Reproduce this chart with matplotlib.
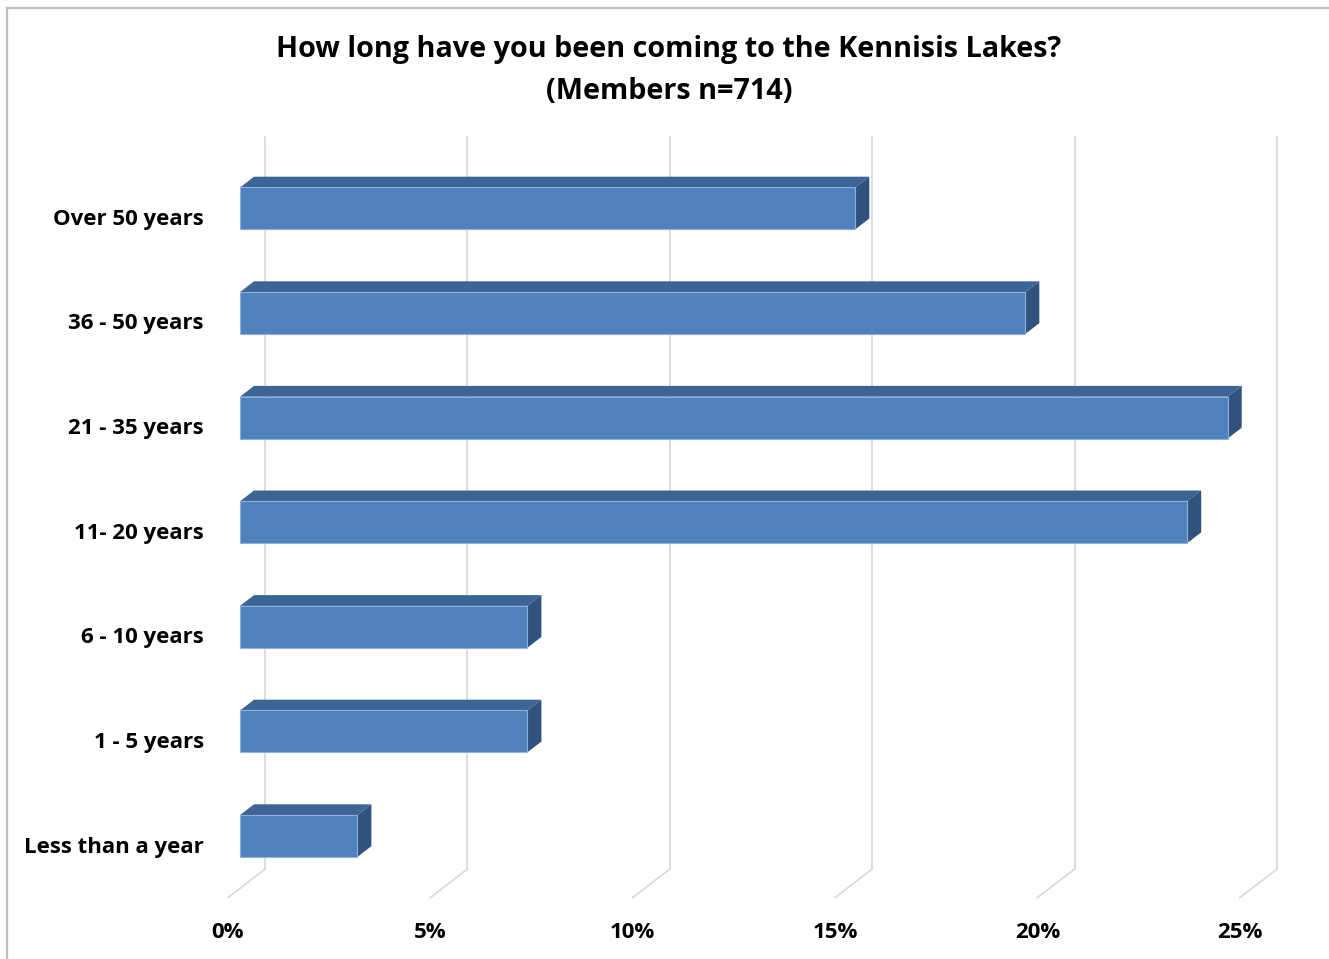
import matplotlib
matplotlib.use("Agg")
import matplotlib.pyplot as plt
from matplotlib.patches import Polygon, Rectangle
from matplotlib.lines import Line2D

# ---- data ----
categories = ["Less than a year", "1 - 5 years", "6 - 10 years", "11- 20 years",
              "21 - 35 years", "36 - 50 years", "Over 50 years"]
values = [2.9, 7.1, 7.1, 23.4, 24.4, 19.4, 15.2]
xticks = [0, 5, 10, 15, 20, 25]
xtick_labels = ["0%", "5%", "10%", "15%", "20%", "25%"]
title = "How long have you been coming to the Kennisis Lakes?\n(Members n=714)"

# ---- layout (pixel geometry of the 3D look) ----
W, H = 1329, 959
DPI = 100
X0_PX = 240.0          # front-plane 0% pixel
PX_PER_PCT = 40.48
Y0_PX = 836.0          # centre of first category (front plane)
PX_PER_CAT = 104.6
BAR_H = 0.40
DEPTH_RATIO = 0.77

def ox(t):
    return t / PX_PER_PCT

def oy(t):
    return t * DEPTH_RATIO / PX_PER_CAT

BAR_DEPTH = 14
WALL_DEPTH = 25
FLOOR_FRONT = -12

front_c = "#4F81BD"
top_c = "#3C6495"
side_c = "#30527E"
grid_c = "#D9D9D9"
font = ["Open Sans", "DejaVu Sans"]

fig = plt.figure(figsize=(W / DPI, H / DPI), dpi=DPI)
ax = fig.add_axes([0, 0, 1, 1])
ax.set_xlim(-X0_PX / PX_PER_PCT, (W - X0_PX) / PX_PER_PCT)
ax.set_ylim((Y0_PX - H) / PX_PER_CAT, Y0_PX / PX_PER_CAT)
ax.axis("off")

n = len(categories)
ylo, yhi = -0.5, n - 0.5

# back wall gridlines + floor lines
for xv in xticks:
    wx = xv + ox(WALL_DEPTH)
    ax.add_line(Line2D([wx, wx], [ylo + oy(WALL_DEPTH), yhi + oy(WALL_DEPTH)],
                       color=grid_c, lw=1.3, zorder=1))
    ax.add_line(Line2D([xv + ox(FLOOR_FRONT), wx],
                       [ylo + oy(FLOOR_FRONT), ylo + oy(WALL_DEPTH)],
                       color=grid_c, lw=1.3, zorder=1))

# bars
dx, dy = ox(BAR_DEPTH), oy(BAR_DEPTH)
for i, v in enumerate(values):
    y0, y1 = i - BAR_H / 2, i + BAR_H / 2
    ax.add_patch(Polygon([(0, y1), (v, y1), (v + dx, y1 + dy), (dx, y1 + dy)],
                         closed=True, facecolor=top_c, edgecolor="none", zorder=3))
    ax.add_patch(Polygon([(v, y0), (v + dx, y0 + dy), (v + dx, y1 + dy), (v, y1)],
                         closed=True, facecolor=side_c, edgecolor="none", zorder=3))
    ax.add_patch(Rectangle((0, y0), v, BAR_H, facecolor=front_c,
                           edgecolor="#8EB0DA", lw=0.8, zorder=4))

# category labels
for i, c in enumerate(categories):
    ax.text(-36 / PX_PER_PCT, i - 11 / PX_PER_CAT, c, ha="right", va="center",
            fontsize=16, fontweight="bold", family=font, color="#000000", zorder=5)

# x tick labels
for xv, lab in zip(xticks, xtick_labels):
    ax.text(xv + ox(FLOOR_FRONT), (Y0_PX - 933) / PX_PER_CAT, lab, ha="center", va="center",
            fontsize=16, fontweight="bold", family=font, color="#000000", zorder=5)

# title
fig.text(669 / W, 1 - 70.5 / H, title, ha="center", va="center", fontsize=20.7,
         fontweight="bold", family=font, color="#000000", linespacing=1.6)

# chart border (left and top)
fig.add_artist(Line2D([7 / W, 7 / W], [0, 1 - 8 / H], transform=fig.transFigure,
                      color="#BFBFBF", lw=1.6))
fig.add_artist(Line2D([7 / W, 1], [1 - 8 / H, 1 - 8 / H], transform=fig.transFigure,
                      color="#BFBFBF", lw=1.6))

fig.savefig("out.png", dpi=DPI, facecolor="white")
